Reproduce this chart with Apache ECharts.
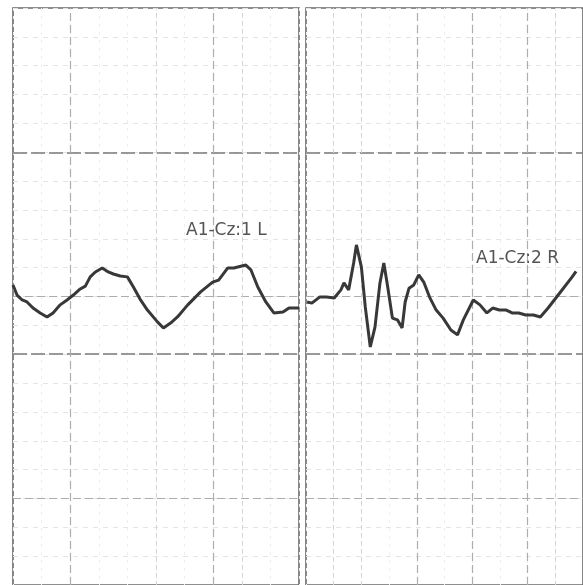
<!DOCTYPE html>
<html><head><meta charset="utf-8">
<script src="https://cdn.jsdelivr.net/npm/echarts@6/dist/echarts.min.js"></script>
<style>html,body{margin:0;padding:0;background:#fff}#c{width:583px;height:585px}</style>
</head><body><div id="c"></div>
<script>
// Time (ms, 1 division = 1 ms) and amplitude (divisions)
const leftTime = [0.00,0.14,0.32,0.49,0.70,0.95,1.19,1.40,1.65,1.89,2.11,2.35,2.53,2.70,2.88,3.12,3.33,3.51,3.75,4.00,4.21,4.46,4.70,5.05,5.26,5.51,5.75,6.11,6.56,6.98,7.19,7.51,7.72,8.14,8.32,8.56,8.84,9.12,9.44,9.65,10.00];
const leftAmp  = [0.40,0.05,-0.12,-0.19,-0.40,-0.57,-0.71,-0.57,-0.29,-0.12,0.05,0.26,0.36,0.68,0.85,0.99,0.85,0.78,0.71,0.68,0.33,-0.12,-0.47,-0.88,-1.09,-0.92,-0.71,-0.29,0.16,0.50,0.57,0.99,0.99,1.09,0.92,0.33,-0.19,-0.57,-0.54,-0.40,-0.40];
const rightTime = [0.04,0.21,0.49,0.74,1.02,1.26,1.37,1.54,1.72,1.82,2.00,2.14,2.32,2.49,2.67,2.81,2.95,3.12,3.30,3.47,3.58,3.72,3.89,4.07,4.25,4.46,4.70,4.95,5.23,5.47,5.68,6.04,6.28,6.53,6.74,6.98,7.23,7.44,7.68,7.93,8.21,8.46,8.74,9.16,9.61,9.75];
const rightAmp  = [-0.19,-0.23,-0.02,-0.02,-0.05,0.23,0.47,0.23,1.16,1.79,1.02,-0.36,-1.75,-1.06,0.47,1.16,0.33,-0.75,-0.81,-1.09,-0.19,0.29,0.40,0.75,0.50,-0.02,-0.47,-0.75,-1.16,-1.33,-0.81,-0.12,-0.29,-0.57,-0.40,-0.47,-0.47,-0.57,-0.57,-0.64,-0.64,-0.71,-0.40,0.12,0.68,0.87];
const channelLabels = ['A1-Cz:1 L', 'A1-Cz:2 R'];

// reference grid values (axis units)
const heavyAmpLines = [5, -2];
const midAmpLines = [0, -7];
const leftMidTime = [2, 7];
const leftFaintTime = [5, 8];
const rightMidTime = [4, 6, 8];
const rightFaintTime = [1, 2, 9];

const chart = echarts.init(document.getElementById('c'), null, {renderer: 'canvas'});

const heavyStyle = {color: '#7a7a7a', width: 1.6, type: [14, 4]};
const midStyle = {color: '#adadad', width: 1.2, type: [8, 4]};
const faintStyle = {color: '#d2d2d2', width: 1, type: [4, 4]};

function gridMarks(midT, faintT) {
  const d = [];
  heavyAmpLines.forEach(v => d.push({yAxis: v, lineStyle: heavyStyle}));
  midAmpLines.forEach(v => d.push({yAxis: v, lineStyle: midStyle}));
  midT.forEach(v => d.push({xAxis: v, lineStyle: midStyle}));
  faintT.forEach(v => d.push({xAxis: v, lineStyle: faintStyle}));
  return {silent: true, symbol: 'none', label: {show: false}, animation: false, data: d};
}

function xAx(i) {
  return {gridIndex: i, type: 'value', min: 0, max: 10, interval: 1,
    axisLine: {show: false}, axisTick: {show: false}, axisLabel: {show: false},
    splitLine: {show: true, lineStyle: {color: '#eeeeee', width: 1, type: [3, 5]}}};
}
function yAx(i) {
  return {gridIndex: i, type: 'value', min: -10, max: 10, interval: 1,
    axisLine: {show: false}, axisTick: {show: false}, axisLabel: {show: false},
    splitLine: {show: true, lineStyle: {color: '#e4e4e4', width: 1, type: [5, 5]}}};
}

const labelStyle = {fontFamily: 'DejaVu Sans', fontSize: 17, fontWeight: 'normal', color: '#555'};

const option = {
  backgroundColor: '#ffffff',
  animation: false,
  title: [
    {text: channelLabels[0], left: 181, top: 217, textStyle: labelStyle},
    {text: channelLabels[1], left: 471, top: 245, textStyle: labelStyle}
  ],
  grid: [
    {left: 13, top: 8, width: 286, height: 577, show: true, borderColor: '#6a6a6a', borderWidth: 1.6, backgroundColor: 'transparent'},
    {left: 306, top: 8, width: 285, height: 577, show: true, borderColor: '#6a6a6a', borderWidth: 1.6, backgroundColor: 'transparent'}
  ],
  xAxis: [xAx(0), xAx(1)],
  yAxis: [yAx(0), yAx(1)],
  series: [
    {type: 'line', xAxisIndex: 0, yAxisIndex: 0, showSymbol: false, symbol: 'none',
     data: leftTime.map((t, i) => [t, leftAmp[i]]),
     lineStyle: {color: '#383838', width: 3}, markLine: gridMarks(leftMidTime, leftFaintTime), z: 5},
    {type: 'line', xAxisIndex: 1, yAxisIndex: 1, showSymbol: false, symbol: 'none',
     data: rightTime.map((t, i) => [t, rightAmp[i]]),
     lineStyle: {color: '#383838', width: 3}, markLine: gridMarks(rightMidTime, rightFaintTime), z: 5}
  ]
};
chart.setOption(option);
</script>
</body></html>
